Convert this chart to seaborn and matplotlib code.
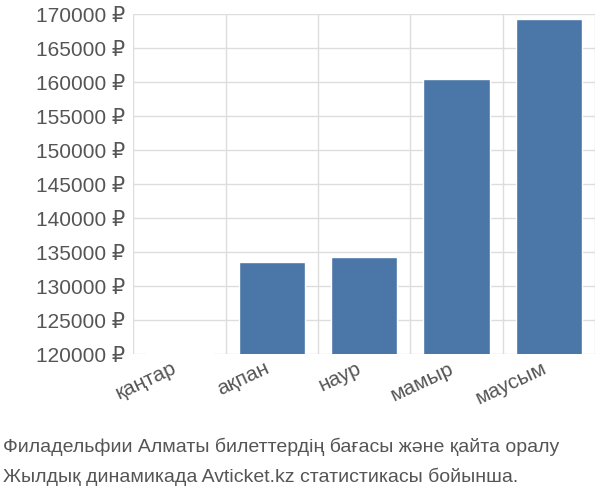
import matplotlib
matplotlib.use("Agg")
import matplotlib.pyplot as plt
import seaborn as sns
import pandas as pd
from matplotlib.ticker import FuncFormatter, MultipleLocator

months = ["қаңтар", "ақпан", "наур", "мамыр", "маусым"]
prices = [120100, 133500, 134200, 160500, 169300]
caption = ["Филадельфии Алматы билеттердің бағасы және қайта оралу",
           "Жылдық динамикада Avticket.kz статистикасы бойынша."]

sns.set_style("white")
plt.rcParams['font.family'] = ['Liberation Sans', 'DejaVu Sans']

fig = plt.figure(figsize=(6, 5), dpi=100)
ax = fig.add_axes([0.222, 0.292, 0.770, 0.68])
df = pd.DataFrame({"m": months, "p": prices})
sns.barplot(data=df, x="m", y="p", color="#4a76a8", saturation=1, width=0.72, ax=ax)
ax.set_ylim(120000, 170000)
ax.set_xlim(-0.5, 4.5)
ax.yaxis.set_major_locator(MultipleLocator(5000))
ax.yaxis.set_major_formatter(FuncFormatter(lambda v, p: f"{int(v)} ₽"))
ax.set_xlabel(""); ax.set_ylabel("")
for x in [-0.5, 0.5, 1.5, 2.5, 3.5, 4.5]:
    ax.axvline(x, color="#dddddd", lw=1, zorder=0)
ax.grid(axis="y", color="#dddddd", lw=1)
ax.set_axisbelow(True)
for s in ax.spines.values():
    s.set_visible(False)
ax.tick_params(axis="y", labelsize=15, colors="#555555", length=0, pad=6)
ax.tick_params(axis="x", labelsize=15, colors="#555555", length=0)
for lab in ax.get_xticklabels():
    lab.set_rotation(-25); lab.set_rotation(25); lab.set_ha("right")
fig.text(0.005, 0.095, caption[0], fontsize=14, color="#555555")
fig.text(0.005, 0.035, caption[1], fontsize=14, color="#555555")
fig.savefig("out.png")
